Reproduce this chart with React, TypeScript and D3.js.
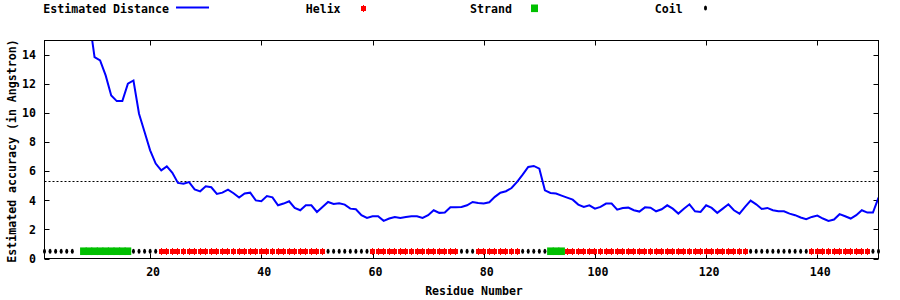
import React from 'react';
import * as d3 from 'd3';

// Residue numbers for the estimated distance curve
const residues: number[] = [
  9, 10, 11, 12, 13, 14, 15, 16, 17, 18, 19, 20, 21, 22, 23, 24, 25, 26, 27, 28,
  29, 30, 31, 32, 33, 34, 35, 36, 37, 38, 39, 40, 41, 42, 43, 44, 45, 46, 47, 48,
  49, 50, 51, 52, 53, 54, 55, 56, 57, 58, 59, 60, 61, 62, 63, 64, 65, 66, 67, 68,
  69, 70, 71, 72, 73, 74, 75, 76, 77, 78, 79, 80, 81, 82, 83, 84, 85, 86, 87, 88,
  89, 90, 91, 92, 93, 94, 95, 96, 97, 98, 99, 100, 101, 102, 103, 104, 105, 106, 107, 108,
  109, 110, 111, 112, 113, 114, 115, 116, 117, 118, 119, 120, 121, 122, 123, 124, 125, 126, 127, 128,
  129, 130, 131, 132, 133, 134, 135, 136, 137, 138, 139, 140, 141, 142, 143, 144, 145, 146, 147, 148,
  149, 150, 151,
];

// Estimated accuracy (Angstrom) per residue
const distances: number[] = [
  16.6, 13.86, 13.63, 12.6, 11.22, 10.83, 10.83, 12.03, 12.25, 9.96, 8.7, 7.44, 6.53, 6.07, 6.34, 5.9, 5.2, 5.15, 5.26, 4.76,
  4.62, 4.97, 4.9, 4.44, 4.53, 4.74, 4.49, 4.19, 4.47, 4.53, 4.0, 3.94, 4.3, 4.21, 3.66, 3.78, 3.94, 3.48, 3.32, 3.66,
  3.66, 3.2, 3.55, 3.89, 3.75, 3.8, 3.71, 3.43, 3.39, 2.98, 2.79, 2.91, 2.91, 2.59, 2.75, 2.86, 2.79, 2.86, 2.91, 2.91,
  2.79, 2.98, 3.32, 3.14, 3.16, 3.53, 3.53, 3.55, 3.66, 3.89, 3.82, 3.78, 3.87, 4.24, 4.53, 4.63, 4.85, 5.27, 5.77, 6.3,
  6.37, 6.18, 4.69, 4.51, 4.47, 4.33, 4.19, 4.05, 3.71, 3.55, 3.66, 3.43, 3.55, 3.78, 3.78, 3.36, 3.48, 3.5, 3.32, 3.23,
  3.52, 3.5, 3.25, 3.39, 3.66, 3.43, 3.09, 3.43, 3.73, 3.25, 3.2, 3.66, 3.48, 3.14, 3.43, 3.73, 3.32, 3.09, 3.55, 3.98,
  3.73, 3.41, 3.48, 3.32, 3.25, 3.25, 3.09, 2.98, 2.82, 2.7, 2.86, 2.95, 2.75, 2.59, 2.68, 3.05, 2.91, 2.75, 2.98, 3.32,
  3.16, 3.16, 4.19,
];

// Secondary structure ranges (inclusive residue ranges)
const helixRanges: [number, number][] = [[22, 51], [60, 75], [79, 86], [95, 127], [139, 149]];
const strandRanges: [number, number][] = [[8, 16], [92, 94]];
const coilRanges: [number, number][] = [[1, 6], [17, 21], [52, 59], [76, 78], [87, 91], [128, 138], [150, 151]];

const markerLevel = 0.5;
const thresholdLevel = 5.3;

const xTicks = [20, 40, 60, 80, 100, 120, 140];
const yTicks = [0, 2, 4, 6, 8, 10, 12, 14];

const legendLabels = ['Estimated Distance', 'Helix', 'Strand', 'Coil'];

const expand = (ranges: [number, number][]) =>
  ranges.flatMap(([a, b]) => d3.range(a, b + 1));

const FONT = '"DejaVu Sans Mono", "Liberation Mono", monospace';

export default function App() {
  const W = 900;
  const H = 300;
  const left = 44.5, right = 878.5, top = 40.5, bottom = 258.5;

  const x = d3.scaleLinear().domain([1, 151]).range([left, right]);
  const y = d3.scaleLinear().domain([0, 15]).range([bottom, top]);

  const line = d3
    .line<number>()
    .x((_, i) => x(residues[i]))
    .y((d) => y(d));

  const helix = expand(helixRanges);
  const strand = expand(strandRanges);
  const coil = expand(coilRanges);
  const my = y(markerLevel);

  const tickLen = 5;
  const textStyle: React.CSSProperties = {
    fontFamily: FONT,
    fontWeight: 'bold',
    fontSize: '11.6px',
  };

  const helixMark = (cx: number, cy: number, key: string | number) => (
    <g key={key}>
      <rect x={cx - 2.5} y={cy - 2.5} width={5} height={5} fill="#ff0000" shapeRendering="crispEdges" />
      <rect x={cx - 0.5} y={cy - 3.5} width={1} height={7} fill="#ff0000" shapeRendering="crispEdges" />
    </g>
  );
  const coilMark = (cx: number, cy: number, key: string | number) => (
    <ellipse key={key} cx={cx} cy={cy} rx={1.5} ry={2.5} fill="#000" />
  );
  const strandMark = (cx: number, cy: number, w: number, key: string | number) => (
    <rect key={key} x={cx - w / 2} y={cy - 3.8} width={w} height={7.6} fill="#00c000" />
  );

  return (
    <svg
      width={W}
      height={H}
      style={{ position: 'absolute', left: 0, top: 0, background: '#fff' }}
    >
      <rect x={0} y={0} width={W} height={H} fill="#fff" />
      <defs>
        <clipPath id="plotClip">
          <rect x={left} y={top} width={right - left} height={bottom - top} />
        </clipPath>
      </defs>

      {/* threshold dotted line */}
      <line
        x1={left}
        x2={right}
        y1={Math.round(y(thresholdLevel)) + 0.5}
        y2={Math.round(y(thresholdLevel)) + 0.5}
        stroke="#000"
        strokeWidth={1}
        strokeDasharray="2,2"
      />

      {/* ticks */}
      {yTicks.map((t) => (
        <g key={'yt' + t}>
          <line x1={left} x2={left + tickLen} y1={Math.round(y(t)) + 0.5} y2={Math.round(y(t)) + 0.5} stroke="#000" />
          <line x1={right} x2={right - tickLen} y1={Math.round(y(t)) + 0.5} y2={Math.round(y(t)) + 0.5} stroke="#000" />
          <text x={36} y={y(t)} dy="0.36em" textAnchor="end" style={textStyle}>
            {t}
          </text>
        </g>
      ))}
      {xTicks.map((t) => (
        <g key={'xt' + t}>
          <line x1={Math.round(x(t)) + 0.5} x2={Math.round(x(t)) + 0.5} y1={bottom} y2={bottom - tickLen} stroke="#000" />
          <line x1={Math.round(x(t)) + 0.5} x2={Math.round(x(t)) + 0.5} y1={top} y2={top + tickLen} stroke="#000" />
          <text x={x(t) + 3} y={276} textAnchor="middle" style={textStyle}>
            {t}
          </text>
        </g>
      ))}

      {/* distance curve */}
      <path
        d={line(distances) || ''}
        fill="none"
        stroke="#0000ff"
        strokeWidth={2}
        clipPath="url(#plotClip)"
      />

      {/* secondary structure markers */}
      {helix.map((r) => helixMark(x(r), my, 'h' + r))}
      {strand.map((r) => strandMark(x(r), my, 6.7, 's' + r))}
      {coil.map((r) => coilMark(x(r), my, 'c' + r))}

      {/* frame */}
      <rect x={left} y={top} width={right - left} height={bottom - top} fill="none" stroke="#000" strokeWidth={1} />

      {/* axis labels */}
      <text x={474} y={294.5} textAnchor="middle" style={textStyle}>
        Residue Number
      </text>
      <text
        transform={`translate(16, ${151}) rotate(-90)`}
        textAnchor="middle"
        style={textStyle}
      >
        Estimated accuracy (in Angstron)
      </text>

      {/* legend */}
      <text x={43.3} y={12.7} style={textStyle}>{legendLabels[0]}</text>
      <line x1={176} x2={209} y1={7.5} y2={7.5} stroke="#0000ff" strokeWidth={2} />
      <text x={305.7} y={12.7} style={textStyle}>{legendLabels[1]}</text>
      {helixMark(363.5, 8, 'lh')}
      <text x={470} y={12.7} style={textStyle}>{legendLabels[2]}</text>
      {strandMark(534.5, 8.3, 7, 'ls')}
      <text x={654.7} y={12.7} style={textStyle}>{legendLabels[3]}</text>
      {coilMark(705.5, 8, 'lc')}
    </svg>
  );
}
